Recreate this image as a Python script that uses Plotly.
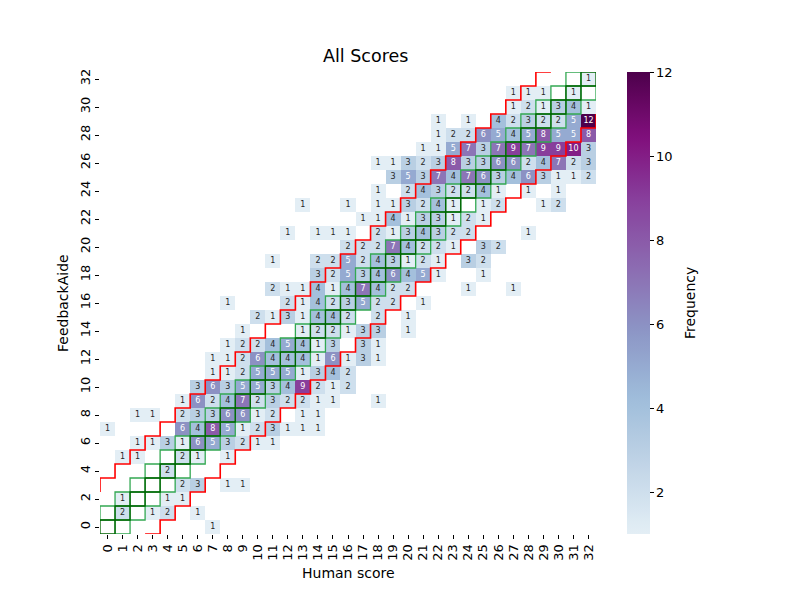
import plotly.graph_objects as go

# ---------------- data ----------------
scores = list(range(33))                      # 0..32 on both axes
score_labels = [str(s) for s in scores]
y_tick_values = list(range(0, 33, 2))
colorbar_ticks = [2, 4, 6, 8, 10, 12]

# for each FeedbackAide score (row), the human scores with non-zero counts
human_by_aide = [
    [7],
    [1, 3, 4, 6],
    [1, 4, 5],
    [5, 6, 8, 9],
    [4],
    [1, 2, 5, 6, 8],
    [2, 3, 4, 5, 6, 7, 8, 9, 10, 11],
    [0, 5, 6, 7, 8, 9, 10, 11, 12, 13, 14],
    [2, 3, 5, 6, 7, 8, 9, 10, 11, 13, 14],
    [5, 6, 7, 8, 9, 10, 11, 12, 13, 14, 15, 18],
    [6, 7, 8, 9, 10, 11, 12, 13, 14, 15, 16],
    [7, 8, 9, 10, 11, 12, 13, 14, 15, 16],
    [7, 8, 9, 10, 11, 12, 13, 14, 15, 16, 17, 18],
    [8, 9, 10, 11, 12, 13, 14, 15, 17, 18],
    [9, 13, 14, 15, 16, 17, 18, 20],
    [10, 11, 12, 13, 14, 15, 16, 18, 20],
    [8, 12, 13, 14, 15, 16, 17, 18, 19, 21],
    [11, 12, 13, 14, 15, 16, 17, 18, 19, 20, 24, 27],
    [14, 15, 16, 17, 18, 19, 20, 21, 22, 25],
    [11, 14, 15, 16, 17, 18, 19, 20, 21, 22, 24, 25],
    [16, 17, 18, 19, 20, 21, 22, 23, 25, 26],
    [12, 14, 15, 16, 18, 19, 20, 21, 22, 23, 24, 28],
    [17, 18, 19, 20, 21, 22, 23, 24, 25],
    [13, 16, 18, 19, 20, 21, 22, 23, 25, 26, 29, 30],
    [18, 20, 21, 22, 23, 24, 25, 26, 28, 30],
    [19, 20, 21, 22, 23, 24, 25, 26, 27, 28, 29, 30, 31, 32],
    [18, 19, 20, 21, 22, 23, 24, 25, 26, 27, 28, 29, 30, 31, 32],
    [21, 22, 23, 24, 25, 26, 27, 28, 29, 30, 31, 32],
    [22, 23, 24, 25, 26, 27, 28, 29, 30, 31, 32],
    [22, 24, 26, 27, 28, 29, 30, 31, 32],
    [27, 28, 29, 30, 31, 32],
    [27, 28, 29, 31],
    [32],
]
freq_by_aide = [
    [1],
    [2, 1, 2, 1],
    [1, 1, 1],
    [2, 3, 1, 1],
    [2],
    [1, 1, 2, 1, 1],
    [1, 1, 3, 1, 6, 5, 3, 2, 1, 1],
    [1, 6, 4, 8, 5, 1, 2, 3, 1, 1, 1],
    [1, 1, 2, 3, 3, 6, 6, 1, 2, 1, 1],
    [1, 6, 2, 4, 7, 2, 3, 2, 2, 1, 1, 1],
    [3, 6, 3, 5, 5, 3, 4, 9, 2, 1, 2],
    [1, 1, 2, 5, 5, 5, 1, 3, 4, 2],
    [1, 1, 2, 6, 4, 4, 4, 1, 6, 1, 3, 1],
    [1, 2, 2, 4, 5, 4, 1, 3, 3, 1],
    [1, 1, 2, 2, 1, 3, 3, 1],
    [2, 1, 3, 1, 4, 4, 2, 2, 1],
    [1, 2, 1, 4, 2, 3, 5, 2, 2, 1],
    [2, 1, 1, 4, 1, 4, 7, 4, 2, 2, 1, 1],
    [3, 2, 5, 3, 4, 6, 4, 5, 1, 1],
    [1, 2, 2, 5, 2, 4, 3, 1, 2, 1, 3, 2],
    [2, 2, 2, 7, 4, 2, 2, 1, 3, 2],
    [1, 1, 1, 1, 2, 1, 3, 4, 3, 2, 2, 1],
    [1, 1, 4, 1, 3, 3, 1, 2, 1],
    [1, 1, 1, 1, 3, 2, 4, 1, 1, 2, 1, 2],
    [1, 2, 4, 3, 2, 2, 4, 1, 1, 1],
    [3, 5, 3, 7, 4, 7, 6, 3, 4, 6, 3, 1, 1, 2],
    [1, 1, 3, 2, 3, 8, 3, 3, 6, 6, 2, 4, 7, 2, 3],
    [1, 1, 5, 7, 3, 7, 9, 7, 9, 9, 10, 3],
    [1, 2, 2, 6, 5, 4, 5, 8, 5, 5, 8],
    [1, 1, 4, 2, 3, 2, 2, 5, 12],
    [1, 2, 1, 3, 4, 1],
    [1, 1, 1, 1],
    [1],
]
tolerance = 3  # red band: |FeedbackAide - Human| <= 3

# ---------------- build matrix + text ----------------
n = len(scores)
z = [[None] * n for _ in range(n)]
tx, ty, tt, tc = [], [], [], []
for a, (hs, fs) in enumerate(zip(human_by_aide, freq_by_aide)):
    for h, f in zip(hs, fs):
        z[a][h] = f
        tx.append(h)
        ty.append(a)
        tt.append(str(f))
        tc.append("#ffffff" if f >= 5 else "#262626")

# truncated BuPu colour scale
bupu = ["#f7fcfd", "#e0ecf4", "#bfd3e6", "#9ebcda", "#8c96c6",
        "#8c6bb1", "#88419d", "#810f7c", "#4d004b"]


def hex2rgb(hx):
    return [int(hx[i:i + 2], 16) for i in (1, 3, 5)]


def bupu_at(t):
    pos = t * (len(bupu) - 1)
    i = min(int(pos), len(bupu) - 2)
    fr = pos - i
    c0, c1 = hex2rgb(bupu[i]), hex2rgb(bupu[i + 1])
    c = [round(c0[k] + (c1[k] - c0[k]) * fr) for k in range(3)]
    return "rgb(%d,%d,%d)" % tuple(c)


start = 0.11
colorscale = [[i / 40, bupu_at(start + (1 - start) * i / 40)] for i in range(41)]

# page offset compensation (browser body margin ~8px)
OFF = 8
PL, PT, PW, PH = 100 - OFF, 72 - OFF, 496, 462

fig = go.Figure()
fig.add_trace(go.Heatmap(
    z=z, x=scores, y=scores, colorscale=colorscale, zmin=1, zmax=12,
    hoverinfo="skip", showscale=True,
    colorbar=dict(
        x=(627 - 100) / PW, xanchor="left", y=0.5, yanchor="middle",
        len=1, lenmode="fraction", thickness=23, thicknessmode="pixels",
        xpad=0, ypad=0,
        outlinewidth=0, ticks="outside", ticklen=4, tickwidth=0.8,
        tickcolor="black", tickvals=colorbar_ticks,
        tickfont=dict(family="DejaVu Sans", size=13, color="black"),
    ),
))

# green boxes (|diff| == 1 light, diff == 0 dark)
shapes = []
for a in scores:
    for h in scores:
        if abs(a - h) == 1:
            shapes.append(dict(type="rect", xref="x", yref="y",
                               x0=h - 0.5, x1=h + 0.5, y0=a - 0.5, y1=a + 0.5,
                               line=dict(color="#33a852", width=1.3), layer="above"))
for s in scores:
    shapes.append(dict(type="rect", xref="x", yref="y",
                       x0=s - 0.5, x1=s + 0.5, y0=s - 0.5, y1=s + 0.5,
                       line=dict(color="#006400", width=1.3), layer="above"))

# red staircases
ux, uy = [], []
for c in range(0, n - tolerance):
    r = c + tolerance
    ux += [c - 0.5, c - 0.5, c + 0.5]
    uy += [r - 0.5, r + 0.5, r + 0.5]
lx, ly = [], []
for r in range(0, n - tolerance):
    c = r + tolerance
    lx += [c - 0.5, c + 0.5, c + 0.5]
    ly += [r - 0.5, r - 0.5, r + 0.5]
for xs, ys in ((ux, uy), (lx, ly)):
    fig.add_trace(go.Scatter(x=xs, y=ys, mode="lines",
                             line=dict(color="red", width=1.6),
                             hoverinfo="skip", showlegend=False))

fig.add_trace(go.Scatter(
    x=tx, y=ty, text=tt, mode="text",
    textfont=dict(family="DejaVu Sans", size=8, color=tc),
    hoverinfo="skip", showlegend=False,
))

axis_font = dict(family="DejaVu Sans", size=13, color="black")
fig.update_layout(
    width=800, height=600,
    margin=dict(l=PL, r=800 - PL - PW, t=PT, b=600 - PT - PH, pad=0),
    paper_bgcolor="white", plot_bgcolor="white",
    showlegend=False,
    shapes=shapes,
    font=dict(family="DejaVu Sans", color="black"),
    xaxis=dict(range=[-0.5, 32.5], tickvals=scores, ticktext=score_labels,
               tickangle=-90, ticks="outside", ticklen=4, tickwidth=0.8,
               tickcolor="black", showgrid=False, zeroline=False,
               showline=False, tickfont=axis_font, fixedrange=True),
    yaxis=dict(range=[-0.5, 32.5], tickvals=y_tick_values,
               ticktext=[str(v) for v in y_tick_values],
               tickangle=-90, ticks="outside", ticklen=4, tickwidth=0.8,
               tickcolor="black", showgrid=False, zeroline=False,
               showline=False, tickfont=axis_font, fixedrange=True),
    annotations=[
        dict(text="All Scores", xref="paper", yref="paper",
             x=(365 - 100) / PW, y=(534 - 56) / PH,
             showarrow=False, font=dict(family="DejaVu Sans", size=17.5, color="black"),
             xanchor="center", yanchor="middle"),
        dict(text="Human score", xref="paper", yref="paper",
             x=0.5, y=(534 - 573) / PH, showarrow=False,
             font=dict(family="DejaVu Sans", size=14, color="black"),
             xanchor="center", yanchor="middle"),
        dict(text="FeedbackAide", xref="paper", yref="paper",
             x=(63 - 100) / PW, y=0.5, showarrow=False, textangle=-90,
             font=dict(family="DejaVu Sans", size=14, color="black"),
             xanchor="center", yanchor="middle"),
        dict(text="Frequency", xref="paper", yref="paper",
             x=(690 - 100) / PW, y=0.5, showarrow=False, textangle=-90,
             font=dict(family="DejaVu Sans", size=14, color="black"),
             xanchor="center", yanchor="middle"),
    ],
)

fig.write_html("out.html")
